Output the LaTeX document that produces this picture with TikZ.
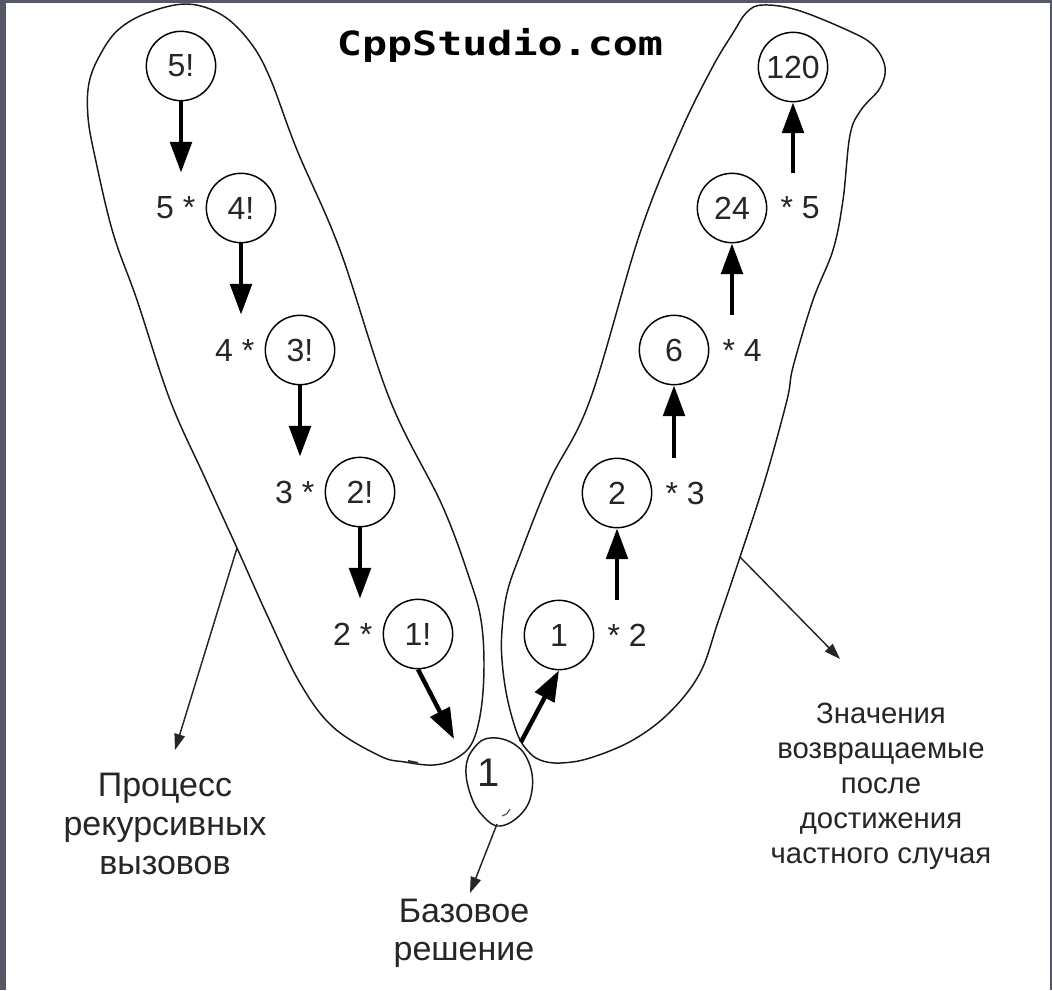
\documentclass[tikz,border=0pt]{standalone}
\usepackage{fontspec}
\setmainfont{Liberation Sans}
\newfontfamily\sitefont[FakeStretch=1.25]{DejaVu Sans Mono}
\usetikzlibrary{arrows.meta}

\definecolor{framegray}{RGB}{86,88,104}
\definecolor{ink}{RGB}{38,38,38}

\tikzset{
  valnode/.style={draw, circle, line width=1.1pt, minimum size=52pt, inner sep=0pt,
                  font=\fontsize{24pt}{28pt}\selectfont, text=ink},
  multlabel/.style={font=\fontsize{24pt}{28pt}\selectfont, text=ink, inner sep=0pt},
  caption/.style={align=center, text=ink, inner sep=0pt},
  bigarrow/.style={line width=3.3pt, -{Triangle[length=23pt,width=16pt]}},
  pointer/.style={line width=1.1pt, draw=black!85, -{Triangle[length=12pt,width=8pt]}},
  outline/.style={line width=1.1pt, draw=black!90},
}

\begin{document}
\begin{tikzpicture}[x=0.75pt,y=-0.75pt]
% page frame
\fill[framegray] (0,0) rectangle (1052,990);
\fill[white] (6,3) rectangle (1050,990);
\useasboundingbox (0,0) rectangle (1052,990);

% site title
\node[font=\sitefont\bfseries\fontsize{25pt}{30pt}\selectfont, anchor=base, inner sep=0pt]
  (site) at (500,55) {CppStudio.com};

% outline of the recursive-call branch
\draw[outline] plot[smooth cycle, tension=0.6] coordinates {
  (187,4) (222,15) (250,42) (270,78) (297,150) (340,250) (390,400) (442,505)
  (470,580) (481,620) (484,665) (481,710) (472,743) (455,759) (433,765)
  (405,762) (380,756) (333,727) (300,683) (268,617) (237,548) (205,478)
  (170,400) (137,300) (113,233) (95,157) (88,117) (89,83) (100,55) (118,30) (147,13)};
\draw[line width=1.6pt, black!80] (408,761) -- (418,763);

% outline of the returned-values branch
\draw[outline] plot[smooth cycle, tension=0.6] coordinates {
  (763,5) (797,10) (847,30) (873,45) (885,67) (880,88) (861,110) (850,135)
  (843,200) (833,250) (813,300) (793,367) (787,400) (765,480) (740,557)
  (718,622) (700,673) (670,712) (633,740) (590,758) (560,763) (540,760)
  (527,750) (517,733) (507,697) (502,660) (502,630) (507,593) (520,555)
  (550,480) (590,400) (640,233) (680,133) (712,68) (733,33) (747,12)};

% base case
\draw[outline] plot[smooth cycle, tension=0.7] coordinates {
  (490,738) (514,744) (529,763) (532,790) (522,813) (500,826) (483,816)
  (471,796) (466,768) (474,748)};
\draw[line width=0.8pt, black!70] (502,816) .. controls (507,814) .. (510,809);
\node[font=\fontsize{30pt}{34pt}\selectfont, text=ink, inner sep=0pt] (base) at (489,773) {1};

% descending chain n!
\node[valnode] (l5) at (181,66)  {5!};
\node[valnode] (l4) at (241,208) {4!};
\node[valnode] (l3) at (300,350) {3!};
\node[valnode] (l2) at (360,492) {2!};
\node[valnode] (l1) at (418,634) {1!};
\node[multlabel, anchor=east] (m5) at ([xshift=-10*0.75pt]l4.west) {5 *};
\node[multlabel, anchor=east] (m4) at ([xshift=-10*0.75pt]l3.west) {4 *};
\node[multlabel, anchor=east] (m3) at ([xshift=-10*0.75pt]l2.west) {3 *};
\node[multlabel, anchor=east] (m2) at ([xshift=-10*0.75pt]l1.west) {2 *};

\draw[bigarrow] (l5.south) -- (l5.south |- l4.north);
\draw[bigarrow] (l4.south) -- (l4.south |- l3.north);
\draw[bigarrow] (l3.south) -- (l3.south |- l2.north);
\draw[bigarrow] (l2.south) -- (l2.south |- l1.north);

% ascending chain of results
\node[valnode] (r1)   at (559,635) {1};
\node[valnode] (r2)   at (617,493) {2};
\node[valnode] (r6)   at (674,350) {6};
\node[valnode] (r24)  at (732,208) {24};
\node[valnode] (r120) at (793,67)  {120};
\node[multlabel, anchor=west] (k2) at ([xshift=13*0.75pt]r1.east)  {* 2};
\node[multlabel, anchor=west] (k3) at ([xshift=13*0.75pt]r2.east)  {* 3};
\node[multlabel, anchor=west] (k4) at ([xshift=13*0.75pt]r6.east)  {* 4};
\node[multlabel, anchor=west] (k5) at ([xshift=13*0.75pt]r24.east) {* 5};

\draw[bigarrow] (r2.south |- r1.north)    -- (r2.south);
\draw[bigarrow] (r6.south |- r2.north)    -- (r6.south);
\draw[bigarrow] (r24.south |- r6.north)   -- (r24.south);
\draw[bigarrow] (r120.south |- r24.north) -- (r120.south);

% into and out of the base case
\coordinate (baseIn)  at (454,739);
\coordinate (baseOut) at (521,742);
\draw[bigarrow] (l1.south) -- (baseIn);
\draw[bigarrow] (baseOut) -- (r1.south);

% captions
\node[caption, font=\fontsize{25.5pt}{29pt}\selectfont] (capCalls) at (165,824)
  {Процесс\\рекурсивных\\вызовов};
\node[caption, font=\fontsize{25.5pt}{28.5pt}\selectfont] (capBase) at (464,933)
  {Базовое\\решение};
\node[caption, font=\fontsize{22pt}{26.3pt}\selectfont] (capValues) at (881,786)
  {Значения\\возвращаемые\\после\\достижения\\частного случая};

% pointers from the outlines to the captions
\coordinate (callsFrom)  at (237,548);
\coordinate (callsTo)    at (175,750);
\coordinate (valuesFrom) at (740,557);
\coordinate (valuesTo)   at (840,659);
\coordinate (baseFrom)   at (497,824);
\coordinate (baseTo)     at (470,893);
\draw[pointer] (callsFrom) -- (callsTo);
\draw[pointer] (valuesFrom) -- (valuesTo);
\draw[pointer] (baseFrom) -- (baseTo);
\end{tikzpicture}
\end{document}
